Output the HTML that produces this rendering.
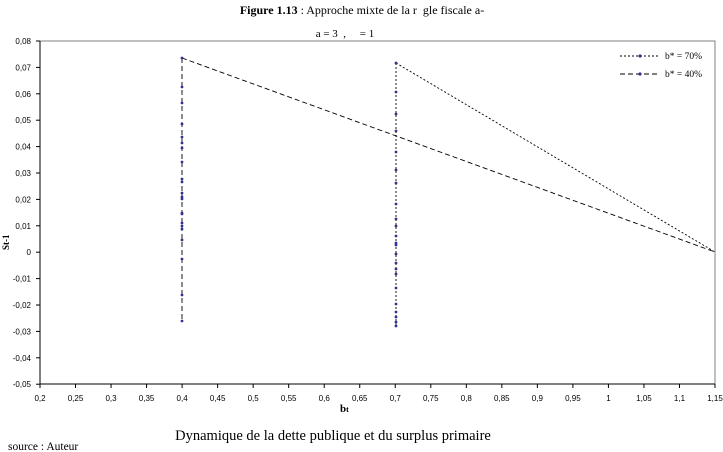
<!DOCTYPE html>
<html><head><meta charset="utf-8"><style>
body{margin:0;background:#fff;width:723px;height:452px;overflow:hidden}
svg{display:block}
text{font-family:"Liberation Serif",serif;fill:#000}
.t{font-family:"Liberation Sans",sans-serif;font-size:8px}
</style></head><body>
<svg width="723" height="452" viewBox="0 0 723 452">
<text x="362" y="14" font-size="12" text-anchor="middle"><tspan font-weight="bold">Figure 1.13</tspan> : Approche mixte de la r&#160; gle fiscale a-</text>
<text x="345" y="37" font-size="11" text-anchor="middle">a = 3 &#160;, &#160;&#160;&#160; = 1</text>
<g stroke="#808080" fill="none"><path d="M40 41H715V384"/></g>
<path d="M40 41V384H715" stroke="#000" fill="none"/>
<g id="yt"></g>
<g id="xt"></g>
<text x="5" y="246" font-size="9" font-weight="bold" transform="rotate(-90 9 246)" font-family="Liberation Sans">St-1</text>
<text x="340" y="412" font-size="11" font-weight="bold">b<tspan font-size="8">t</tspan></text>
<text x="333" y="440" font-size="14.5" text-anchor="middle">Dynamique de la dette publique et du surplus primaire</text>
<text x="8" y="450" font-size="11.5">source : Auteur</text>
<path d="M182 58V321M182 58L715 252" stroke="#000" stroke-dasharray="5,3" fill="none" stroke-width="0.9"/>
<path d="M396 63V326M396 63L715 252" stroke="#000" stroke-dasharray="2,2" fill="none" stroke-width="0.9"/>
<g id="mk" fill="#33338f" stroke="none"></g>
<g>
<path d="M620 56H660" stroke="#000" stroke-dasharray="2,2"/>
<path d="M620 74H660" stroke="#000" stroke-dasharray="5,3"/>
<circle cx="640" cy="56" r="1.6" fill="#33338f"/><circle cx="640" cy="74" r="1.6" fill="#33338f"/>
<text x="665" y="59" font-size="9.5">b* = 70%</text>
<text x="665" y="77" font-size="9.5">b* = 40%</text>
</g>
</svg>
<script>
var ns="http://www.w3.org/2000/svg";
function el(p,n,a,t){var e=document.createElementNS(ns,n);for(var k in a)e.setAttribute(k,a[k]);if(t)e.textContent=t;document.getElementById(p).appendChild(e);}
for(var i=0;i<=13;i++){var v=0.08-i*0.01;var y=41+i*26.4;
el('yt','line',{x1:36,x2:40,y1:y,y2:y,stroke:'#000'});
var s=(Math.abs(v)<1e-9)?'0':v.toFixed(2).replace('.',',');
el('yt','text',{x:31,y:y+3,'text-anchor':'end','class':'t'},s);}
for(var i=0;i<=19;i++){var v=0.2+i*0.05;var x=40+i*675/19;
el('xt','line',{x1:x,x2:x,y1:384,y2:388,stroke:'#000'});
var s=(+v.toFixed(2)).toString().replace('.',',');
el('xt','text',{x:x,y:401,'text-anchor':'middle','class':'t'},s);}
var a=[58,87,103,124,137,143,148,162,179,182,193,197,199,213,214,223,226,229,240,259,295,321];
var b=[63,92,114,131,152,170,183,204,219,226,236,243,245,254,263,269,274,288,304,312,317,322,326];
a.forEach(function(y){el('mk','circle',{cx:182,cy:y,r:1.4});});
b.forEach(function(y){el('mk','circle',{cx:396,cy:y,r:1.4});});
</script>
</body></html>
